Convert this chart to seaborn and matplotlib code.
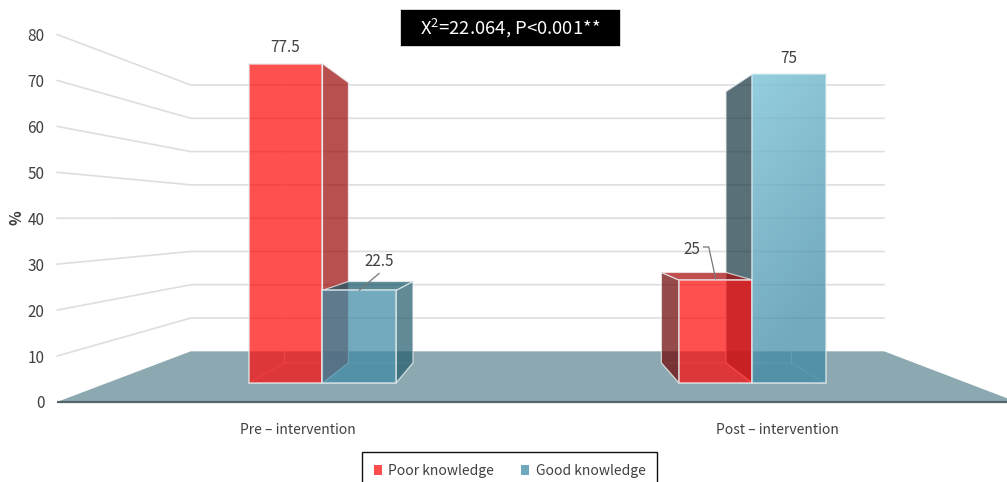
import numpy as np
import pandas as pd
import matplotlib
matplotlib.use("Agg")
import matplotlib.pyplot as plt
from matplotlib.patches import Patch, Polygon, Rectangle
import seaborn as sns

# Survey results
stages = ["Pre – intervention", "Post – intervention"]
poor_knowledge = [77.5, 25]
good_knowledge = [22.5, 75]
series_names = ["Poor knowledge", "Good knowledge"]
y_ticks = [0, 10, 20, 30, 40, 50, 60, 70, 80]
stat_label = "X$^2$=22.064, P<0.001**"

W, H = 1007, 482
PX_PER_STAGE = 430.0     # pixels between the two stage centres
PX_PER_UNIT = 4.12       # pixels per percentage point on the bar plane
STAGE0_PX = 322.5
ZERO_PX = 383.0          # image row of value 0 on the bar plane
AXIS_BOTTOM_PX = 402.0

# Perspective: depth ratios relative to the plane of the bar fronts
VANISH_X = (535.0 - STAGE0_PX) / PX_PER_STAGE
VANISH_V = (ZERO_PX - 218.0) / PX_PER_UNIT
S_AXIS, S_BAR_BACK, S_WALL = 1.115, 0.878, 0.808
WALL_LEFT, WALL_RIGHT = -0.4965, 1.499
FRONT_LEFT = -0.5028


def project(x, v, s):
    return VANISH_X + (x - VANISH_X) * s, VANISH_V + (v - VANISH_V) * s


sns.set_theme(style="white")
plt.rcParams["font.family"] = ["Noto Sans CJK SC", "DejaVu Sans"]
plt.rcParams["mathtext.default"] = "regular"
TEXT = "#404040"
FONT_SIZE = 11
WORD_SIZE = 10

fig = plt.figure(figsize=(W / 100, H / 100), dpi=100)
ax = fig.add_axes([0, 1 - AXIS_BOTTOM_PX / H, 1, AXIS_BOTTOM_PX / H])
ax.patch.set_alpha(0)

df = pd.DataFrame({
    "stage": stages * 2,
    "knowledge": [series_names[0]] * 2 + [series_names[1]] * 2,
    "percent": poor_knowledge + good_knowledge,
})
sns.barplot(data=df, x="stage", y="percent", hue="knowledge",
            palette=["#ff0c0c", "#3d89a5"], saturation=1, width=0.342, gap=0, alpha=0.72,
            edgecolor="#e6eef0", linewidth=1.2, errorbar=None, legend=False,
            zorder=4, ax=ax)

ax.set_xlim(-STAGE0_PX / PX_PER_STAGE, (W - STAGE0_PX) / PX_PER_STAGE)
ax.set_ylim((ZERO_PX - AXIS_BOTTOM_PX) / PX_PER_UNIT, ZERO_PX / PX_PER_UNIT)
ax.set_xlabel("")
ax.set_ylabel("")
ax.grid(False)
for side in ax.spines.values():
    side.set_visible(False)

# Floor and back-wall grid
floor = [project(FRONT_LEFT, 0, S_AXIS), project(WALL_LEFT, 0, S_WALL),
         project(WALL_RIGHT, 0, S_WALL), project(WALL_RIGHT, 0, S_AXIS)]
ax.add_patch(Polygon(floor, closed=True, facecolor="#8ca8b0", edgecolor="none",
                     zorder=1, clip_on=False))
ax.plot(*zip(project(FRONT_LEFT, 0, S_AXIS), project(WALL_RIGHT, 0, S_AXIS)), color="#56646a",
        lw=1.6, zorder=1.5, clip_on=False, solid_capstyle="butt")
for tick in y_ticks[1:]:
    pts = [project(FRONT_LEFT, tick, S_AXIS), project(WALL_LEFT, tick, S_WALL),
           project(WALL_RIGHT, tick, S_WALL)]
    ax.plot(*zip(*pts), color="#dedede", lw=1.2, zorder=1.2)

# Side faces derived from the bars that seaborn placed
face_colours = {
    0: dict(top="#a80a0a", right="#9e0c0c", left="#6e0505"),
    1: dict(top="#1a596b", right="#255d6e", left="#1a3944"),
}
EDGE = dict(edgecolor="#eef3f4", linewidth=0.9, alpha=0.72)


def side_faces(rect, colours, side):
    x0, x1, v = rect.get_x(), rect.get_x() + rect.get_width(), rect.get_height()
    fb = lambda x, y: project(x, y, S_BAR_BACK)
    xo = x1 if side == "right" else x0
    ax.add_patch(Polygon([(xo, 0), (xo, v), fb(xo, v), fb(xo, 0)],
                         facecolor=colours[side], zorder=2.6, **EDGE))
    # the upper face is only seen when the bar stays below eye level
    if v < VANISH_V:
        ax.add_patch(Polygon([(x0, v), (x1, v), fb(x1, v), fb(x0, v)],
                             facecolor=colours["top"], zorder=2.7, **EDGE))
    # floor outline of the box and its rear corner
    xi = x0 if side == "right" else x1
    ax.plot(*zip((x0, 0), (x1, 0), fb(x1, 0), fb(x0, 0), (x0, 0)),
            color="#ffffff", lw=0.7, alpha=0.35, zorder=2.2)
    ax.plot(*zip(fb(xi, 0), fb(xi, v)), color="#ffffff", lw=0.8, alpha=0.5, zorder=2.2)


poor_bars, good_bars = ax.containers[:2]
side_faces(poor_bars[0], face_colours[0], "right")
side_faces(good_bars[0], face_colours[1], "right")
side_faces(poor_bars[1], face_colours[0], "left")
side_faces(good_bars[1], face_colours[1], "left")

# Diagonal sheen on the tall blue bar
tall = good_bars[1]
shade = np.zeros((64, 64, 4))
yy, xx = np.mgrid[0:1:64j, 0:1:64j]
shade[..., :3] = (0.72, 0.95, 1.0)
shade[..., 3] = np.clip(0.50 * (1 - yy) - 0.14 * xx, 0, None)
img = ax.imshow(shade, extent=(tall.get_x(), tall.get_x() + tall.get_width(), 0, tall.get_height()),
                aspect="auto", zorder=4.1, interpolation="bilinear")
img.set_clip_path(Rectangle((tall.get_x(), 0), tall.get_width(), tall.get_height(),
                            transform=ax.transData))
ax.set_xlim(-STAGE0_PX / PX_PER_STAGE, (W - STAGE0_PX) / PX_PER_STAGE)
ax.set_ylim((ZERO_PX - AXIS_BOTTOM_PX) / PX_PER_UNIT, ZERO_PX / PX_PER_UNIT)


# Value labels, offset in pixels from the top centre of each bar
def bar_top(rect):
    return rect.get_x() + rect.get_width() / 2, rect.get_height()


def px_offset(anchor, dx, dy):
    return anchor[0] + dx / PX_PER_STAGE, anchor[1] + dy / PX_PER_UNIT


label_font = dict(color=TEXT, fontsize=FONT_SIZE, ha="center", va="center", zorder=6)
ax.text(*px_offset(bar_top(poor_bars[0]), -0.5, 16), f"{poor_knowledge[0]:g}", **label_font)
ax.text(*px_offset(bar_top(good_bars[1]), -0.5, 16), f"{good_knowledge[1]:g}", **label_font)

anchor = bar_top(good_bars[0])
ax.text(*px_offset(anchor, 20, 29), f"{good_knowledge[0]:g}", **label_font)
ax.plot(*zip(px_offset(anchor, 0, 0), px_offset(anchor, 20, 17)), color="#777777", lw=0.9, zorder=6)

anchor = bar_top(poor_bars[1])
ax.text(*px_offset(anchor, -23.5, 31), f"{poor_knowledge[1]:g}", **label_font)
ax.plot(*zip(px_offset(anchor, 0, 1), px_offset(anchor, -7, 33), px_offset(anchor, -12.5, 33)),
        color="#777777", lw=0.9, zorder=6)

# Category labels sit on the front plane of the floor
tick_xs = [project(i, 0, S_AXIS)[0] for i in range(len(stages))]
ax.set_xticks(tick_xs, stages)
ax.tick_params(axis="x", length=0, pad=15, labelsize=WORD_SIZE, labelcolor=TEXT)
ax.tick_params(axis="y", left=False, labelleft=False)

# Value axis drawn on the same front plane
to_axis = lambda v: VANISH_V + (np.asarray(v, float) - VANISH_V) / S_AXIS
to_bar = lambda t: VANISH_V + (np.asarray(t, float) - VANISH_V) * S_AXIS
yaxis = ax.secondary_yaxis(57 / W, functions=(to_axis, to_bar))
yaxis.set_yticks(y_ticks)
yaxis.tick_params(length=0, pad=9, labelsize=FONT_SIZE, labelcolor=TEXT)
yaxis.spines["left"].set_visible(False)
yaxis.set_ylabel("%", fontsize=FONT_SIZE, fontweight="bold", color=TEXT, labelpad=2,
                 y=(AXIS_BOTTOM_PX - 218) / AXIS_BOTTOM_PX)

# Statistic box
fig.add_artist(Rectangle((400 / W, 1 - 46 / H), 220 / W, 37 / H, transform=fig.transFigure,
                         facecolor="black", edgecolor="#dfe6ea", linewidth=0.6, zorder=8))
fig.text(510 / W, 1 - 28 / H, stat_label, color="white", fontsize=13.3,
         ha="center", va="center", zorder=9)

# Legend, running off the bottom edge of the figure
handles = [Patch(facecolor="#ff4d4d", edgecolor="none", label=series_names[0]),
           Patch(facecolor="#6fa9bc", edgecolor="none", label=series_names[1])]
leg = fig.legend(handles=handles, loc="upper center", ncol=2, frameon=True, fancybox=False,
                 bbox_to_anchor=(509.5 / W, 1 - 452 / H), bbox_transform=fig.transFigure,
                 borderaxespad=0, fontsize=WORD_SIZE, labelcolor=TEXT, handlelength=0.62,
                 handleheight=0.75, handletextpad=0.45, columnspacing=1.9, borderpad=0.85)
leg.get_frame().set_edgecolor("#111111")
leg.get_frame().set_linewidth(1.0)
leg.get_frame().set_alpha(1)

fig.savefig("out.png", dpi=100, facecolor="white")
